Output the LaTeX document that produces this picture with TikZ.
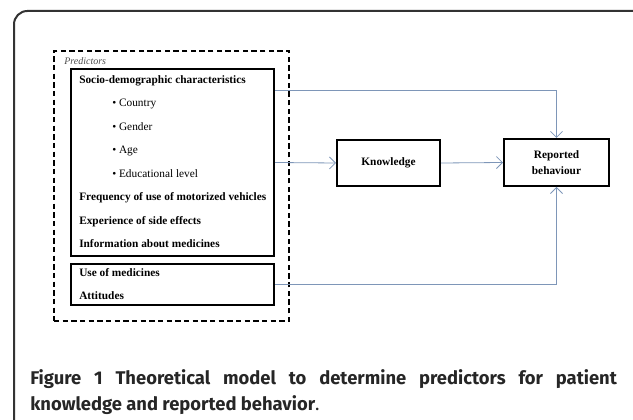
\documentclass[tikz,border=0pt]{standalone}
\usepackage{fontspec}
\setmainfont{Liberation Serif}
\newfontfamily\capfont{Fira Sans}
\usetikzlibrary{arrows.meta,fit,positioning}
\definecolor{flowblue}{RGB}{126,150,184}
\tikzset{
  box/.style={draw, line width=1.5pt, inner sep=0pt},
  predbox/.style={draw, line width=1.8pt, dash pattern=on 4pt off 2.5pt, inner sep=0pt},
  flow/.style={draw=flowblue, line width=0.6pt, -{Straight Barb[length=4.5pt,width=9pt]}},
  item/.style={anchor=mid west, inner sep=0pt, font=\fontsize{8.5}{10}\selectfont\bfseries},
  subitem/.style={anchor=mid west, inner sep=0pt, font=\fontsize{8.5}{10}\selectfont},
  boxtext/.style={align=center, font=\fontsize{8.5}{12}\selectfont\bfseries}
}
\begin{document}
\begin{tikzpicture}[x=0.75pt,y=-0.75pt]
\clip (0,0) rectangle (633,420);
% frame round the figure
\draw[line width=1.5pt, draw=black!80, rounded corners=10pt] (14,11) rectangle (660,440);

% predictors
\node[predbox, fit={(54,51) (289,321)}] (pred) {};
\node[anchor=mid west, inner sep=0pt, text=black!70, font=\fontsize{7.5}{9}\selectfont\itshape] (predlabel) at (64,61) {Predictors};
\node[box, fit={(71,69) (274,256)}] (socio) {};
\node[box, fit={(71,264) (274,305)}] (usebox) {};

\node[item] (s1) at (79,80) {Socio-demographic characteristics};
\foreach \lbl/\yy [count=\i] in {Country/103.5, Gender/127, Age/150.5, Educational level/174}
  \node[subitem] (b\i) at (112,\yy) {\textbullet\ \lbl};
\node[item] (s2) at (79,197.5) {Frequency of use of motorized vehicles};
\node[item] (s3) at (79,221) {Experience of side effects};
\node[item] (s4) at (79,244.5) {Information about medicines};
\node[item] (u1) at (79,273) {Use of medicines};
\node[item] (u2) at (79,296) {Attitudes};

% outcomes
\node[box, fit={(337,140) (440,186)}] (know) {};
\node[boxtext] (knowtext) at (know.center) {Knowledge};
\node[box, fit={(504,139) (609,186)}] (rep) {};
\node[boxtext] (reptext) at (rep.center) {Reported\\behaviour};

\draw[flow] (socio.east) -- (know.west);
\draw[flow] (know.east) -- (rep.west);
\draw[flow] ([yshift=-16.5pt]socio.north east) -| (rep.north);
\draw[flow] (usebox.east) -| (rep.south);

% caption
\node[anchor=north west, inner sep=0pt, align=left, text=black!85, font=\capfont\fontsize{13.8}{19.5}\selectfont\bfseries] (caption) at (30,369)
  {\makebox[440pt][s]{Figure 1 Theoretical model to determine predictors for patient}\\knowledge and reported behavior\textmd{.}};
\end{tikzpicture}
\end{document}
